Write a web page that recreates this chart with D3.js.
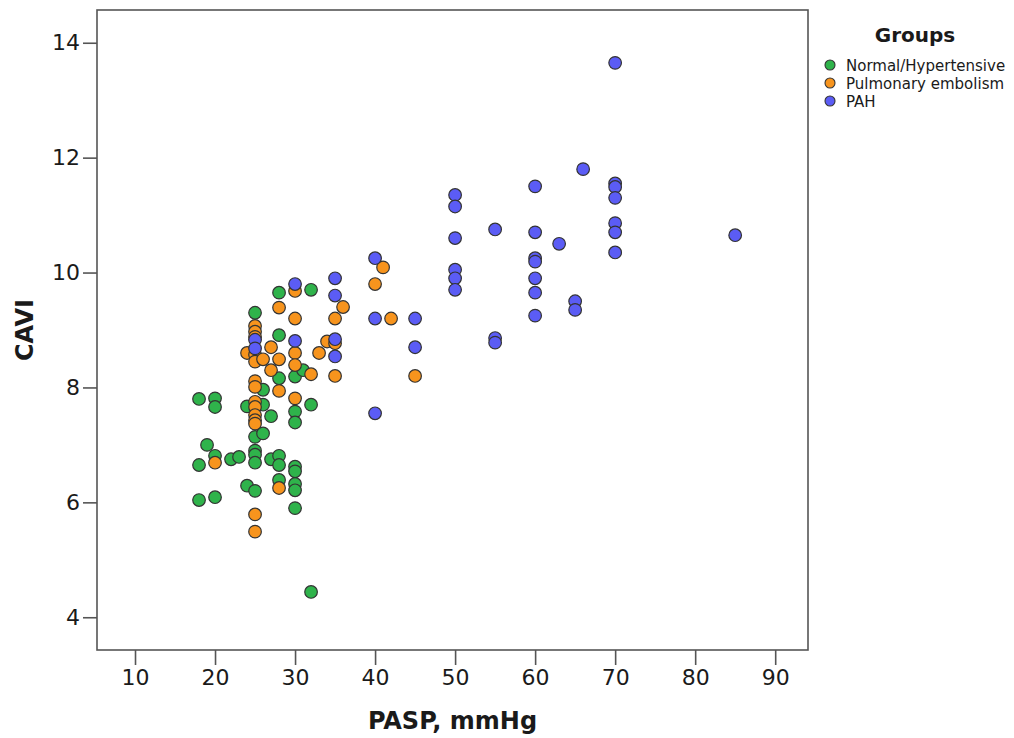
<!DOCTYPE html>
<html>
<head>
<meta charset="utf-8">
<script src="https://cdn.jsdelivr.net/npm/d3@7"></script>
<style>
  body { margin: 0; background: #fff; }
  text { font-family: "DejaVu Sans", sans-serif; fill: #1a1a1a; }
</style>
</head>
<body>
<svg id="chart" width="1014" height="738"></svg>
<script>
// groups and colours
var groups = ["Normal/Hypertensive", "Pulmonary embolism", "PAH"];
var groupColors = ["#2fb34b", "#f7941d", "#5b5cf5"];

// Normal/Hypertensive
var normalPasp = [18, 18, 18, 19, 20, 20, 20, 20, 22, 23, 24, 24, 25, 25, 25, 25, 25, 25, 26, 26, 26, 27, 27,
  28, 28, 28, 28, 28, 28, 30, 30, 30, 30, 30, 30, 30, 30, 31, 32, 32, 32];
var normalCavi = [7.8, 6.65, 6.04, 7.0, 7.81, 7.66, 6.81, 6.09, 6.75, 6.79, 7.67, 6.29, 9.3, 7.14, 6.9, 6.83, 6.69, 6.2,
  7.96, 7.7, 7.2, 7.5, 6.75, 9.65, 8.91, 8.16, 6.81, 6.65, 6.39, 8.19, 7.58, 7.39, 6.62, 6.54, 6.32, 6.21, 5.9,
  8.3, 9.7, 7.7, 4.44];

// Pulmonary embolism
var pePasp = [20, 24, 25, 25, 25, 25, 25, 25, 25, 25, 25, 25, 25, 25, 25, 25, 26, 27, 27, 28, 28, 28, 28,
  30, 30, 30, 30, 30, 32, 33, 34, 35, 35, 35, 36, 40, 41, 42, 45];
var peCavi = [6.69, 8.6, 9.07, 8.97, 8.88, 8.57, 8.45, 8.11, 8.01, 7.75, 7.66, 7.52, 7.43, 7.37, 5.79, 5.49,
  8.49, 8.7, 8.3, 9.39, 8.49, 7.94, 6.25, 9.68, 9.2, 8.6, 8.39, 7.81, 8.23, 8.6, 8.8, 9.2, 8.77, 8.2, 9.4,
  9.8, 10.09, 9.2, 8.2];

// PAH
var pahPasp = [25, 25, 30, 30, 35, 35, 35, 35, 40, 40, 40, 45, 45, 50, 50, 50, 50, 50, 50, 55, 55, 55,
  60, 60, 60, 60, 60, 60, 60, 63, 65, 65, 66, 70, 70, 70, 70, 70, 70, 70, 85];
var pahCavi = [8.83, 8.68, 9.8, 8.81, 9.9, 9.6, 8.84, 8.54, 10.25, 9.2, 7.55, 9.2, 8.7, 11.35, 11.15, 10.6,
  10.05, 9.9, 9.7, 10.75, 8.86, 8.78, 11.5, 10.7, 10.25, 10.19, 9.9, 9.65, 9.25, 10.5, 9.5, 9.35, 11.8,
  13.65, 11.55, 11.49, 11.3, 10.86, 10.7, 10.35, 10.65];

var xTicks = [10, 20, 30, 40, 50, 60, 70, 80, 90];
var yTicks = [4, 6, 8, 10, 12, 14];

var svg = d3.select("#chart");

// plot frame
var plotL = 97, plotT = 10, plotR = 808, plotB = 650;

var x = d3.scaleLinear().domain([5.25, 94.1]).range([plotL, plotR]);
var y = d3.scaleLinear().domain([3.43, 14.57]).range([plotB, plotT]);
var color = d3.scaleOrdinal().domain(groups).range(groupColors);

// build point list: green first, then orange, then blue
var points = [];
normalPasp.forEach((p, i) => points.push({ g: groups[0], x: p, y: normalCavi[i] }));
pePasp.forEach((p, i) => points.push({ g: groups[1], x: p, y: peCavi[i] }));
pahPasp.forEach((p, i) => points.push({ g: groups[2], x: p, y: pahCavi[i] }));

// frame
svg.append("rect")
  .attr("x", plotL).attr("y", plotT)
  .attr("width", plotR - plotL).attr("height", plotB - plotT)
  .attr("fill", "none").attr("stroke", "#555").attr("stroke-width", 1.6);

// axes
var xAxis = svg.append("g")
  .attr("transform", `translate(0,${plotB})`)
  .call(d3.axisBottom(x).tickValues(xTicks).tickSize(15).tickPadding(4));
var yAxis = svg.append("g")
  .attr("transform", `translate(${plotL},0)`)
  .call(d3.axisLeft(y).tickValues(yTicks).tickSize(14).tickPadding(3));

[xAxis, yAxis].forEach(a => {
  a.select(".domain").remove();
  a.selectAll(".tick line").attr("stroke", "#555").attr("stroke-width", 1.6);
  a.selectAll(".tick text").attr("font-size", 22).attr("fill", "#1a1a1a")
    .attr("font-family", "'DejaVu Sans Condensed', Roboto, sans-serif");
});

// points
svg.append("g")
  .selectAll("circle")
  .data(points)
  .enter()
  .append("circle")
  .attr("cx", d => x(d.x))
  .attr("cy", d => y(d.y))
  .attr("r", 6.3)
  .attr("fill", d => color(d.g))
  .attr("stroke", "#333")
  .attr("stroke-width", 1.2);

// axis titles
svg.append("text")
  .attr("x", (plotL + plotR) / 2).attr("y", 729)
  .attr("text-anchor", "middle")
  .attr("font-size", 24).attr("font-weight", "bold")
  .text("PASP, mmHg");

svg.append("text")
  .attr("transform", `translate(33,${(plotT + plotB) / 2}) rotate(-90)`)
  .attr("text-anchor", "middle")
  .attr("font-size", 24).attr("font-weight", "bold")
  .text("CAVI");

// legend
var legend = svg.append("g");
legend.append("text")
  .attr("x", 915).attr("y", 42)
  .attr("text-anchor", "middle")
  .attr("font-size", 20).attr("font-weight", "bold")
  .text("Groups");

legend.selectAll(".lg")
  .data(groups)
  .enter()
  .append("circle")
  .attr("cx", 830)
  .attr("cy", (d, i) => 65 + i * 18)
  .attr("r", 5)
  .attr("fill", d => color(d))
  .attr("stroke", "#333")
  .attr("stroke-width", 1.1);

legend.selectAll(".lt")
  .data(groups)
  .enter()
  .append("text")
  .attr("x", 846)
  .attr("y", (d, i) => 70.5 + i * 18)
  .attr("font-size", 15)
  .attr("fill", "#222")
  .text(d => d);
</script>
</body>
</html>
